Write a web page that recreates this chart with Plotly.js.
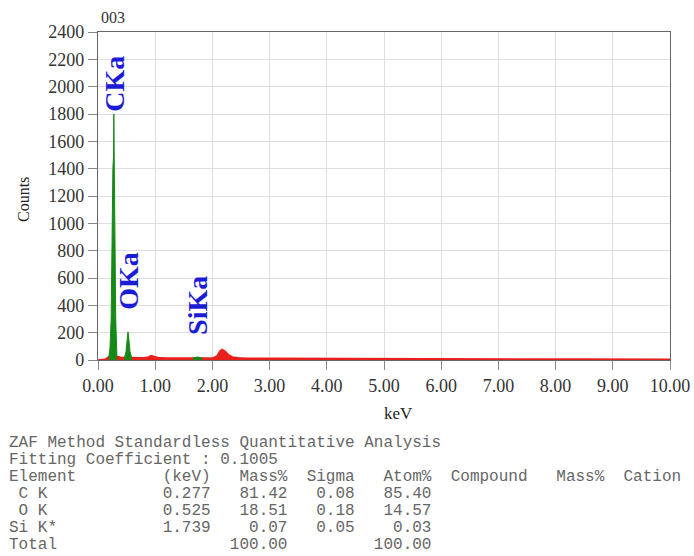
<!DOCTYPE html>
<html>
<head>
<meta charset="utf-8">
<script src="https://cdn.plot.ly/plotly-3.0.1.min.js"></script>
<style>html,body{margin:0;padding:0;background:#fff;}#chart{width:694px;height:556px;}</style>
</head>
<body>
<div id="chart"></div>
<script>
// Background (continuum) spectrum, red
const bgEnergy = [0.00,0.08,0.12,0.16,0.20,0.35,0.40,0.45,0.60,0.70,0.80,0.88,0.93,0.98,1.05,1.20,1.40,1.60,1.70,1.80,1.90,2.00,2.08,2.13,2.17,2.22,2.28,2.35,2.45,2.60,3.00,3.50,4.00,4.50,5.00,5.50,6.00,6.50,7.00,7.50,8.00,8.50,9.00,9.50,10.00];
const bgCounts = [0,0,5,15,30,25,18,18,15,14,16,22,32,25,18,15,14,13,14,14,12,14,30,65,78,65,40,22,16,13,12,11,10,10,9,9,8,8,8,7,7,7,6,6,6];
// Element peaks, green
const cEnergy = [0.19,0.21,0.23,0.245,0.26,0.27,0.277,0.284,0.295,0.31,0.33];
const cCounts = [20,90,300,1000,1400,1480,1800,1470,1000,300,30];
const oEnergy = [0.46,0.49,0.51,0.525,0.54,0.56,0.59];
const oCounts = [15,60,150,205,150,60,15];
const siEnergy = [1.66,1.70,1.74,1.78,1.82];
const siCounts = [14,18,22,18,14];
// Peak labels
const peakLabels = ['CKa','OKa','SiKa'];
const peakLabelX = [0.277,0.54,1.74];
const peakLabelY = [1800,352,169];
// Quantitative table
const tableTitle = 'ZAF Method Standardless Quantitative Analysis';
const fitLine = 'Fitting Coefficient : 0.1005';
const elements = [' C K',' O K','Si K*','Total'];
const keVs = ['0.277','0.525','1.739',''];
const massPct = ['81.42','18.51','0.07','100.00'];
const sigmas = ['0.08','0.18','0.05',''];
const atomPct = ['85.40','14.57','0.03','100.00'];

const header = 'Element'.padEnd(16) + '(keV)' + 'Mass%'.padStart(8) + 'Sigma'.padStart(7) +
  'Atom%'.padStart(8) + 'Compound'.padStart(10) + 'Mass%'.padStart(8) + 'Cation'.padStart(8);
const rows = elements.map((e,i)=> e.padEnd(16) + keVs[i].padStart(5) + massPct[i].padStart(8) +
  sigmas[i].padStart(7) + atomPct[i].padStart(8));
const lines = [tableTitle, fitLine, header].concat(rows);

const serif = 'Liberation Serif, Times New Roman, serif';
const mono = 'Liberation Mono, Courier New, monospace';

const red = '#e8201c', green = '#168a16';
const traces = [
  {x:bgEnergy, y:bgCounts, type:'scatter', mode:'lines', fill:'tozeroy',
   line:{color:red,width:1.5}, fillcolor:red, hoverinfo:'skip'},
  {x:cEnergy, y:cCounts, type:'scatter', mode:'lines', fill:'tozeroy',
   line:{color:green,width:1}, fillcolor:green},
  {x:oEnergy, y:oCounts, type:'scatter', mode:'lines', fill:'tozeroy',
   line:{color:green,width:1}, fillcolor:green},
  {x:siEnergy, y:siCounts, type:'scatter', mode:'lines', fill:'tozeroy',
   line:{color:green,width:1}, fillcolor:green}
];

const W = 694, H = 556, L = 98, R = 24, T = 32, B = 196;
const pw = W - L - R, ph = H - T - B;
const px = v => (v - L) / pw;
const py = v => (H - B - v) / ph;

const annotations = [];
peakLabels.forEach((t,i)=>annotations.push({
  x:peakLabelX[i], y:peakLabelY[i], xref:'x', yref:'y', text:t, textangle:-90,
  showarrow:false, xanchor:'center', yanchor:'bottom',
  font:{family:serif, size:28, color:'#1c1cd6', weight:'bold'}
}));
annotations.push({x:px(99), y:py(18), xref:'paper', yref:'paper', text:'003', showarrow:false,
  xanchor:'left', yanchor:'middle', font:{family:serif,size:16,color:'#333'}});
annotations.push({x:px(23), y:py(200), xref:'paper', yref:'paper', text:'Counts', textangle:-90,
  showarrow:false, xanchor:'center', yanchor:'middle', font:{family:serif,size:16,color:'#222'}});
annotations.push({x:px(398), y:py(413), xref:'paper', yref:'paper', text:'keV',
  showarrow:false, xanchor:'center', yanchor:'middle', font:{family:serif,size:17,color:'#222'}});
lines.forEach((ln,i)=>annotations.push({
  x:px(7), y:py(443 + 17*i), xref:'paper', yref:'paper', text:ln.replace(/ /g,'\u00A0'),
  showarrow:false, xanchor:'left', yanchor:'middle',
  font:{family:mono, size:16, color:'#666'}
}));

const layout = {
  width:W, height:H, margin:{l:L,r:R,t:T,b:B},
  paper_bgcolor:'#fff', plot_bgcolor:'#fff', showlegend:false,
  xaxis:{range:[0,10], dtick:1, tick0:0, tickformat:'.2f', showgrid:true, gridcolor:'#dedede',
    zeroline:false, showline:true, mirror:true, linecolor:'#666', linewidth:1.2,
    ticks:'outside', ticklen:9, tickcolor:'#888',
    tickfont:{family:serif,size:18,color:'#333'}},
  yaxis:{range:[0,2400], dtick:200, tick0:0, showgrid:true, gridcolor:'#dedede',
    zeroline:false, showline:true, mirror:true, linecolor:'#666', linewidth:1.2,
    ticks:'outside', ticklen:9, tickcolor:'#888',
    tickfont:{family:serif,size:18,color:'#333'}},
  annotations:annotations
};
Plotly.newPlot('chart', traces, layout, {displayModeBar:false, staticPlot:true});
</script>
</body>
</html>
